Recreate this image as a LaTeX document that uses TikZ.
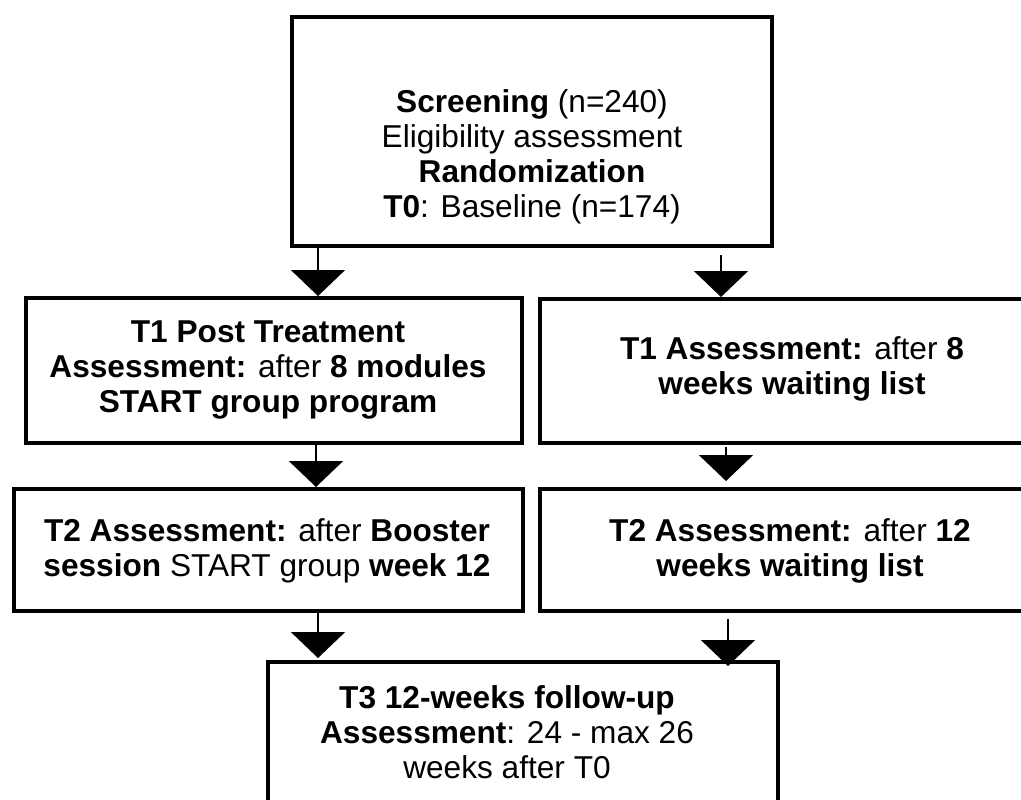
\documentclass[tikz,border=0pt]{standalone}
\usepackage{fontspec}
\setmainfont{Liberation Sans}
\usetikzlibrary{arrows.meta}
\begin{document}
\begin{tikzpicture}[x=0.02cm,y=-0.02cm,
  box/.style={draw,line width=0.08cm,rectangle,inner sep=0pt},
  txt/.style={align=center,font=\fontsize{18}{20}\selectfont,inner sep=0pt},
  arr/.style={line width=0.04cm,-{Triangle[width=1.08cm,length=0.52cm]}}]
\useasboundingbox (0,0) rectangle (1021,800);
% boxes
\node[box,minimum width=480*0.02cm,minimum height=229*0.02cm] (s) at (532,131.5) {};
\node[txt] (st) at (532,157) {\textbf{Screening} (n=240)\\Eligibility assessment\\\textbf{Randomization}\\\textbf{T0}: Baseline (n=174)};
\node[box,minimum width=496*0.02cm,minimum height=145*0.02cm] (l1) at (274,370.5) {};
\node[txt] at (268,370) {\textbf{T1 Post Treatment}\\\textbf{Assessment:} after \textbf{8 modules}\\\textbf{START group program}};
\node[box,minimum width=486*0.02cm,minimum height=144*0.02cm] (r1) at (783,371) {};
\node[txt] at (792,369) {\textbf{T1 Assessment:} after \textbf{8}\\\textbf{weeks waiting list}};
\node[box,minimum width=509*0.02cm,minimum height=122*0.02cm] (l2) at (268.5,550) {};
\node[txt] at (267,551) {\textbf{T2 Assessment:} after \textbf{Booster}\\\textbf{session} START group \textbf{week 12}};
\node[box,minimum width=486*0.02cm,minimum height=122*0.02cm] (r2) at (783,550) {};
\node[txt] at (790,551) {\textbf{T2 Assessment:} after \textbf{12}\\\textbf{weeks waiting list}};
\node[box,minimum width=510*0.02cm,minimum height=200*0.02cm] (b) at (523,762) {};
\node[txt] at (507,732) {\textbf{T3 12-weeks follow-up}\\\textbf{Assessment}: 24 - max 26\\weeks after T0};
% arrows
\draw[arr] (s.south -| 318,0) -- (l1.north -| 318,0);
\draw[arr,shorten <=7*0.02cm] (s.south -| 721,0) -- (r1.north -| 721,0);
\draw[arr] (l1.south -| 316,0) -- (l2.north -| 316,0);
\draw[arr,shorten <=2*0.02cm,shorten >=6*0.02cm] (r1.south -| 726,0) -- (r2.north -| 726,0);
\draw[arr,shorten >=2*0.02cm] (l2.south -| 318,0) -- (b.north -| 318,0);
\draw[arr,shorten <=6*0.02cm,shorten >=-6*0.02cm] (r2.south -| 728,0) -- (b.north -| 728,0);
\end{tikzpicture}
\end{document}
